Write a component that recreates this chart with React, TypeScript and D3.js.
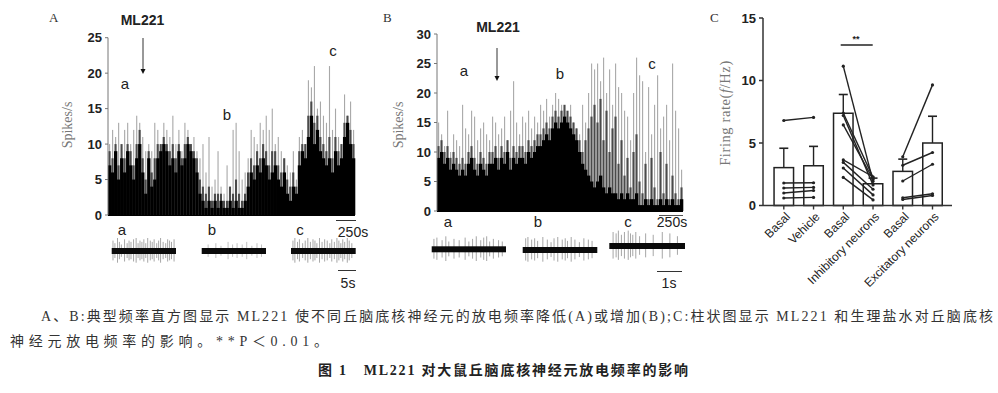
import React from "react";
import * as d3 from "d3";

// ---------- Panel A histogram (3 px bins) ----------
const histA_black = [7,6,9,5,8,6,9,7,5, 8,10,6,3,8, 4,5,8,9, 10,9,7,8,6,9,7,8, 10,9,8,6, 3,2,1,2,1, 2,1,2,1,1,2,1,2,1,1,2, 4,6,5,7,6,8,7, 5,6,7,5,4,6, 3,2,4,3, 7,9,8, 11,14,10,12,9,8, 7,8,6,9,7,8, 11,13,10,8];
const histA_mid = [9,8,10,7,10,8,10,9,7, 10,12,8,5,9, 6,8,10,10, 11,10,9,10,8,10,8,10, 11,10,9,8, 5,4,3,4,2, 3,3,3,2,2,4,3,5,3,2,3, 6,8,7,9,8,10,9, 7,9,9,7,6,8, 5,4,6,4, 9,10,10, 14,16,13,14,11,10, 9,11,8,11,9,10, 13,14,12,10];
const histA_peak = [10,12,11,13,9,12,13,10,12, 14,13,11,9,10, 9,13,12,10, 13,12,11,14,10,12,9,13, 12,10,11,9, 8,10,6,11,4, 5,9,4,3,7,4,12,13,9,5,6, 8,12,11,10,13,12,14, 12,15,10,11,9,8, 7,6,9,5, 11,12,10, 19,18,21,15,16,14, 13,21,12,15,11,10, 17,14,16,12];
const yTicksA = [0, 5, 10, 15, 20, 25];

// ---------- Panel B histogram (3 px bins) ----------
const histB_black = [9,10,8,9,7,8,7,6, 7,6,8,9,7,6,8,7,6,8, 8,9,7,9,8,10,7,9,8,9, 9,8,10,9,10,11, 11,12,13,12,14, 15,14,15,16,15,14,13,12, 10,8,7,6, 5,4,5,6,4,3,4,3, 3,2,3,2,3,2,2,3,1, 1,2,1,2,1,1,2,1,2,1,2,1,1,2];
const histB_mid = [11,12,10,11,9,10,9,8, 9,8,10,11,9,8,10,9,8,10, 10,11,9,11,10,12,9,11,10,11, 11,10,12,11,12,13, 13,14,15,14,16, 17,16,17,18,17,16,15,14, 12,10,12,14, 16,18,15,19,12,17,10,14, 16,8,12,6,9,4,10,13,5, 3,8,2,9,4,2,10,3,8,2,6,3,2,4];
const histB_peak = [15,13,11,17,10,13,12,11, 18,14,13,17,16,12,14,15,13,12, 16,15,13,14,16,12,17,22,15,13, 16,15,17,14,16,15, 18,17,19,16,18, 20,19,18,17,16,18,15,14, 13,18,15,20, 25,24,25,22,26,20,24,18, 25,21,20,17,16,12,20,26,23, 22,10,21,13,18,23,14,16,18,12,25,17,14,7];
const yTicksB = [0, 5, 10, 15, 20, 25, 30];

// ---------- Panel C bar chart ----------
const groupsC = ["Basal", "Vehicle", "Basal", "Inhibitory neurons", "Basal", "Excitatory neurons"];
const meansC = [3.03, 3.18, 7.38, 1.74, 2.73, 5.0];
const semC = [1.55, 1.55, 1.5, 0.45, 0.98, 2.14];
const pairsVehicle = [[6.8, 7.05], [1.8, 1.82], [1.4, 1.45], [1.0, 1.2], [0.6, 0.65]];
const pairsInhibitory = [[11.15, 1.95], [7.4, 2.25], [7.2, 1.65], [6.45, 2.1], [3.65, 2.3], [3.45, 1.3], [3.0, 0.85], [2.25, 0.45]];
const pairsExcitatory = [[3.9, 9.65], [3.22, 4.24], [1.96, 3.3], [0.62, 0.94], [0.48, 0.8]];
const yTicksC = [0, 5, 10, 15];

// ---------- spike traces (position 0..1, relative amplitude) ----------
const traceAa = { pos: [0.02,0.05,0.09,0.12,0.15,0.2,0.24,0.27,0.3,0.34,0.38,0.41,0.44,0.47,0.5,0.53,0.56,0.6,0.63,0.66,0.7,0.73,0.76,0.8,0.84,0.87,0.9,0.93,0.97], amp: [0.8,0.6,1,0.7,0.5,0.9,0.6,0.8,0.7,0.9,1,0.6,0.8,0.7,0.9,0.6,1,0.8,0.7,0.9,0.6,0.8,1,0.7,0.6,0.9,0.8,0.7,0.9] };
const traceAb = { pos: [0.1,0.22,0.3,0.41,0.48,0.55,0.63,0.7,0.78,0.86,0.93], amp: [0.5,0.6,0.4,0.7,0.5,0.6,0.5,0.7,0.4,0.6,0.5] };
const traceAc = { pos: [0.03,0.06,0.1,0.13,0.18,0.22,0.26,0.3,0.34,0.37,0.4,0.44,0.48,0.52,0.56,0.6,0.63,0.67,0.71,0.74,0.77,0.8,0.83,0.87,0.9,0.94], amp: [0.8,1,0.7,0.9,0.6,0.8,1,0.7,0.9,0.8,0.6,1,0.7,0.9,0.8,0.6,0.9,0.7,1,0.8,0.6,0.9,0.7,1,0.8,0.6] };
const traceBa = { pos: [0.03,0.07,0.14,0.19,0.23,0.3,0.37,0.45,0.5,0.55,0.6,0.66,0.7,0.74,0.78,0.83,0.9,0.95], amp: [0.8,0.9,0.7,1,0.6,0.8,0.7,0.9,0.6,0.8,1,0.7,0.9,1,0.6,0.8,0.7,0.6] };
const traceBb = { pos: [0.04,0.07,0.12,0.16,0.2,0.27,0.33,0.38,0.42,0.47,0.53,0.57,0.6,0.65,0.7,0.76,0.82,0.88,0.93], amp: [0.9,1,0.8,0.9,0.7,1,0.8,0.6,0.9,1,0.8,0.9,0.7,1,0.8,0.6,0.9,0.8,0.7] };
const traceBc = { pos: [0.05,0.09,0.12,0.16,0.2,0.25,0.28,0.31,0.35,0.4,0.48,0.58,0.7,0.8,0.9], amp: [1,0.9,1.1,0.8,1,1.1,0.9,0.8,1,0.7,0.9,0.8,1,0.9,0.7] };

const captionLine1 = "A、B:典型频率直方图显示 ML221 使不同丘脑底核神经元的放电频率降低(A)或增加(B);C:柱状图显示 ML221 和生理盐水对丘脑底核";
const captionLine2 = "神经元放电频率的影响。**P＜0.01。";
const figTitle = "图 1\u00a0\u00a0\u00a0ML221 对大鼠丘脑底核神经元放电频率的影响";

const SANS = "Liberation Sans, Arial, sans-serif";
const SERIF = "Liberation Serif, DejaVu Serif, serif";
const CJK = "Liberation Serif, Noto Sans CJK SC, serif";

function Histogram({ x0, x1, yTop, yBottom, maxV, ticks, black, mid, peak }) {
  const n = black.length;
  const x = d3.scaleLinear().domain([0, n]).range([x0, x1]);
  const y = d3.scaleLinear().domain([0, maxV]).range([yBottom, yTop]);
  const bw = x(1) - x(0);
  return (
    <g>
      {peak.map((v, i) => (
        <rect key={"p" + i} x={x(i) + bw * 0.35} width={1.1} y={y(v)} height={y(0) - y(v)} fill="#a8a8a8" />
      ))}
      {mid.map((v, i) => (
        <rect key={"m" + i} x={x(i) + bw * 0.15} width={bw * 0.7} y={y(v)} height={y(0) - y(v)} fill="#4a4a4a" />
      ))}
      {black.map((v, i) => (
        <rect key={"b" + i} x={x(i)} width={bw + 0.3} y={y(v)} height={y(0) - y(v)} fill="#000" />
      ))}
      <line x1={x0} x2={x0} y1={yTop} y2={yBottom} stroke="#777" strokeWidth={1} />
      <line x1={x0} x2={x1} y1={yBottom + 0.5} y2={yBottom + 0.5} stroke="#000" strokeWidth={1.2} />
      {ticks.map((t) => (
        <g key={t}>
          <line x1={x0 - 3} x2={x0} y1={y(t)} y2={y(t)} stroke="#777" />
          <text x={x0 - 6} y={y(t)} dy="0.36em" textAnchor="end" fontFamily={SANS} fontSize={13} fontWeight={700} fill="#222">{t}</text>
        </g>
      ))}
    </g>
  );
}

function Trace({ x0, x1, cy, data, h = 13, color = "#8c8c8c" }) {
  const x = d3.scaleLinear().domain([0, 1]).range([x0, x1]);
  return (
    <g>
      {data.pos.map((p, i) => (
        <line key={i} x1={x(p)} x2={x(p)} y1={cy - h * data.amp[i]} y2={cy + h * 0.9 * data.amp[i]} stroke={color} strokeWidth={0.9} opacity={0.85} />
      ))}
      <rect x={x0} y={cy - 3} width={x1 - x0} height={6} fill="#0a0a0a" />
    </g>
  );
}

function PanelC() {
  const y = d3.scaleLinear().domain([0, 15]).range([205.5, 18]);
  const xs = d3.scalePoint().domain(d3.range(6).map(String)).range([783.8, 932.5]);
  const cx = (i) => xs(String(i));
  const bw = 19.5;
  const axX = 763;
  const pairSets = [[pairsVehicle, 0], [pairsInhibitory, 2], [pairsExcitatory, 4]];
  return (
    <g>
      {meansC.map((m, i) => (
        <g key={i}>
          <line x1={cx(i)} x2={cx(i)} y1={y(m)} y2={y(m + semC[i])} stroke="#222" strokeWidth={1.4} />
          <line x1={cx(i) - 4.5} x2={cx(i) + 4.5} y1={y(m + semC[i])} y2={y(m + semC[i])} stroke="#222" strokeWidth={1.6} />
          <rect x={cx(i) - bw / 2} y={y(m)} width={bw} height={y(0) - y(m)} fill="none" stroke="#222" strokeWidth={1.5} />
        </g>
      ))}
      {pairSets.map(([pairs, gi]) =>
        pairs.map((p, k) => (
          <g key={gi + "-" + k}>
            <line x1={cx(gi)} x2={cx(gi + 1)} y1={y(p[0])} y2={y(p[1])} stroke="#222" strokeWidth={1.4} />
            <circle cx={cx(gi)} cy={y(p[0])} r={1.6} fill="#222" />
            <circle cx={cx(gi + 1)} cy={y(p[1])} r={1.6} fill="#222" />
          </g>
        ))
      )}
      <line x1={axX} x2={axX} y1={y(15)} y2={y(0)} stroke="#333" strokeWidth={1.5} />
      <line x1={axX} x2={952} y1={y(0)} y2={y(0)} stroke="#333" strokeWidth={1.5} />
      {yTicksC.map((t) => (
        <g key={t}>
          <line x1={axX - 4} x2={axX} y1={y(t)} y2={y(t)} stroke="#333" strokeWidth={1.5} />
          <text x={axX - 7} y={y(t)} dy="0.36em" textAnchor="end" fontFamily={SANS} fontSize={13} fontWeight={700} fill="#222">{t}</text>
        </g>
      ))}
      {groupsC.map((g, i) => (
        <g key={i}>
          <line x1={cx(i)} x2={cx(i)} y1={y(0)} y2={y(0) + 4} stroke="#333" strokeWidth={1.4} />
          <text transform={`translate(${cx(i) + 4},${y(0) + 9}) rotate(-45)`} textAnchor="end" dy="0.35em" fontFamily={SANS} fontSize={12} fill="#222">{g}</text>
        </g>
      ))}
      <line x1={840.7} x2={872.7} y1={45} y2={45} stroke="#222" strokeWidth={1.6} />
      <text x={856} y={42} textAnchor="middle" fontFamily={SANS} fontSize={9} fontWeight={700} fill="#222">**</text>
      <text transform={`translate(730,113) rotate(-90)`} textAnchor="middle" fontFamily={SERIF} fontSize={14.5} letterSpacing={0.6} fill="#777">Firing rate(<tspan fontStyle="italic">f</tspan>/Hz)</text>
      <text x={710} y={22} fontFamily={SERIF} fontSize={13} fill="#333">C</text>
    </g>
  );
}

function Arrow({ x, y1, y2 }) {
  return (
    <g>
      <line x1={x} x2={x} y1={y1} y2={y2 - 4} stroke="#333" strokeWidth={1} />
      <path d={`M${x - 2.5},${y2 - 5} L${x + 2.5},${y2 - 5} L${x},${y2} Z`} fill="#111" />
    </g>
  );
}

function Lbl({ x, y, t, size = 15 }) {
  return <text x={x} y={y} dy="0.35em" textAnchor="middle" fontFamily={SANS} fontSize={size} fill="#222">{t}</text>;
}

export default function App() {
  return (
    <svg width={998} height={393} style={{ position: "absolute", left: 0, top: 0, background: "#fff" }}>
      <rect width={998} height={393} fill="#fff" />
      {/* Panel A */}
      <text x={49} y={22} fontFamily={SERIF} fontSize={13} fill="#333">A</text>
      <text x={142.5} y={20} dy="0.35em" textAnchor="middle" fontFamily={SANS} fontSize={14} fontWeight={700} fill="#222">ML221</text>
      <Arrow x={143} y1={38} y2={74} />
      <text transform="translate(72,125) rotate(-90)" textAnchor="middle" fontFamily={SERIF} fontSize={14} fill="#777">Spikes/s</text>
      <Histogram x0={108} x1={355} yTop={37.7} yBottom={215} maxV={25} ticks={yTicksA} black={histA_black} mid={histA_mid} peak={histA_peak} />
      <Lbl x={125} y={84} t="a" />
      <Lbl x={227} y={115} t="b" />
      <Lbl x={333} y={51} t="c" />
      <line x1={336} x2={356} y1={220.5} y2={220.5} stroke="#333" strokeWidth={1} />
      <Lbl x={353} y={232} t="250s" size={14} />
      <Lbl x={122} y={230} t="a" />
      <Lbl x={212} y={230} t="b" />
      <Lbl x={300} y={230} t="c" />
      <Trace x0={111.7} x1={176} cy={251} data={traceAa} />
      <Trace x0={201.7} x1={266} cy={251} data={traceAb} color="#b0b0b0" />
      <Trace x0={291} x1={355.7} cy={251} data={traceAc} />
      <line x1={338} x2={356} y1={270.5} y2={270.5} stroke="#333" strokeWidth={1} />
      <Lbl x={348} y={283} t="5s" size={14} />

      {/* Panel B */}
      <text x={383} y={22} fontFamily={SERIF} fontSize={13} fill="#333">B</text>
      <text x={498} y={27} dy="0.35em" textAnchor="middle" fontFamily={SANS} fontSize={14} fontWeight={700} fill="#222">ML221</text>
      <Arrow x={497} y1={48} y2={81} />
      <text transform="translate(403,125) rotate(-90)" textAnchor="middle" fontFamily={SERIF} fontSize={14} fill="#777">Spikes/s</text>
      <Histogram x0={437} x1={683} yTop={34} yBottom={211} maxV={30} ticks={yTicksB} black={histB_black} mid={histB_mid} peak={histB_peak} />
      <Lbl x={464} y={71} t="a" />
      <Lbl x={560} y={74} t="b" />
      <Lbl x={652} y={64} t="c" />
      <line x1={659} x2={683} y1={215.5} y2={215.5} stroke="#555" strokeWidth={1} />
      <Lbl x={672} y={222} t="250s" size={14} />
      <Lbl x={448} y={222} t="a" />
      <Lbl x={538} y={222} t="b" />
      <Lbl x={628} y={222} t="c" />
      <Trace x0={431.7} x1={506} cy={249.3} data={traceBa} />
      <Trace x0={522.7} x1={597.3} cy={250} data={traceBb} />
      <Trace x0={609.3} x1={685} cy={246} data={traceBc} h={14} />
      <line x1={657} x2={682} y1={271.5} y2={271.5} stroke="#333" strokeWidth={1} />
      <Lbl x={669} y={283} t="1s" size={14} />

      {/* Panel C */}
      <PanelC />

      {/* Caption */}
      <text x={41} y={321} fontFamily={CJK} fontSize={14} fill="#333" textLength={952} lengthAdjust="spacing">{captionLine1}</text>
      <text x={10} y={346} fontFamily={CJK} fontSize={14} fill="#333" textLength={318} lengthAdjust="spacing">{captionLine2}</text>
      <text x={318} y={375} fontFamily={CJK} fontSize={14} fontWeight={700} fill="#222" textLength={370} lengthAdjust="spacing">{figTitle}</text>
    </svg>
  );
}
